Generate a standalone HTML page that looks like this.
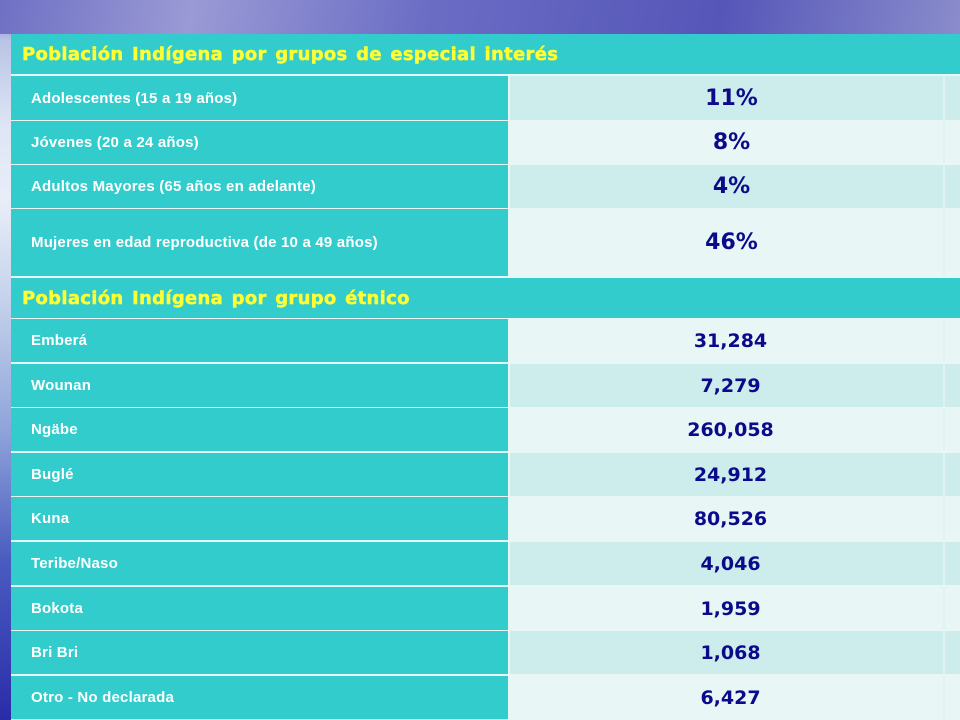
<!DOCTYPE html>
<html><head><meta charset="utf-8"><style>
body{margin:0;width:960px;height:720px;overflow:hidden;position:relative;
background:linear-gradient(180deg,#5a5cbc 0px,#8a8ed0 20px,#b8c4e6 40px,#dfe6f4 130px,#e8eef8 200px,#c5d2ec 300px,#8fa4da 430px,#4a5cc0 560px,#2a2ca8 720px);font-family:"Liberation Sans",sans-serif}
.sky{position:absolute;left:0;top:0;width:960px;height:34px;background:linear-gradient(100deg,#6f70c4 0%,#9a9ad6 20%,#6a6cc4 45%,#5556b8 75%,#8a8ccc 100%)}
.c{position:absolute;box-sizing:border-box}
.h{background:#33cccc;color:#ffff33;font:bold 18px "DejaVu Sans",sans-serif;padding-left:11px;display:flex;align-items:center;letter-spacing:0.3px;word-spacing:2px;-webkit-text-stroke:0.4px #ffff33}
.l{background:#33cccc;color:#fff;font:bold 15px "Liberation Sans",sans-serif;padding-left:20px;display:flex;align-items:center;letter-spacing:0.2px}
.v{color:#0a0a8a;font:bold 22px "DejaVu Sans",sans-serif;display:flex;align-items:center;justify-content:center;padding-left:10px}
.v2{font-size:19px;padding-left:8px}
.e{border-left:2px solid #dff3f3}
</style></head><body>
<div class="sky"></div>
<div id="tbl"></div>
<script>
const labels1=["Adolescentes (15 a 19 años)","Jóvenes (20 a 24 años)","Adultos Mayores (65 años en adelante)","Mujeres en edad reproductiva (de 10 a 49 años)"];
const values1=["11%","8%","4%","46%"];
const labels2=["Emberá","Wounan","Ngäbe","Buglé","Kuna","Teribe/Naso","Bokota","Bri Bri","Otro - No declarada"];
const values2=["31,284","7,279","260,058","24,912","80,526","4,046","1,959","1,068","6,427"];
const tbl=document.getElementById('tbl');
function cell(cls,x,y,w,h,txt,bg){const d=document.createElement('div');d.className='c '+cls;d.style.left=x+'px';d.style.top=y+'px';d.style.width=w+'px';d.style.height=h+'px';if(bg)d.style.background=bg;d.textContent=txt||'';tbl.appendChild(d);return d;}
const bgd=cell('',11,34,949,686,'','#e8f6f6');


let h=cell('h',11,34,949,40,'Población Indígena por grupos de especial interés');


const tops1=[76,121,165,209],hs1=[44,43,43,67];
labels1.forEach((t,i)=>{
 const a=cell('l',11,tops1[i],497,hs1[i],t);
 
 
 const bg=i%2?'#e8f6f6':'#cdecec';
 const b=cell('v',510,tops1[i],433,hs1[i],values1[i],bg);
 
 
 const e=cell('e',943,tops1[i],17,hs1[i],'',bg);
 
 
});
h=cell('h',11,278,949,40,'Población Indígena por grupo étnico');


labels2.forEach((t,i)=>{
 const y=319+Math.round(i*44.6),hh=43;
 const a=cell('l',11,y,497,hh,t);
 
 
 const bg=i%2?'#cdecec':'#e8f6f6';
 const b=cell('v v2',510,y,433,hh,values2[i],bg);
 
 
 const e=cell('e',943,y,17,hh,'',bg);
 
 
});
</script>
</body></html>
